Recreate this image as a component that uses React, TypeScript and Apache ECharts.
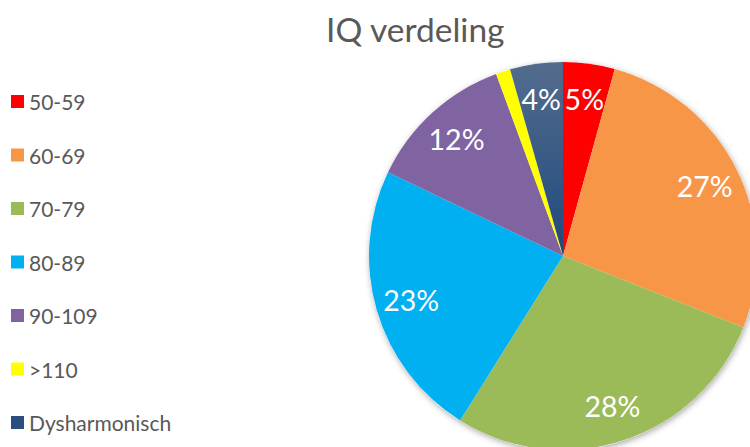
import React, { useEffect, useRef } from "react";
import * as echarts from "echarts";

const categories = ["50-59", "60-69", "70-79", "80-89", "90-109", ">110", "Dysharmonisch"];
const values = [4.3, 26.7, 27.9, 23.2, 12.3, 1.2, 4.4];
const percentLabels = ["5%", "27%", "28%", "23%", "12%", "1%", "4%"];
const colors: any[] = [
  "#FF0000",
  "#F79646",
  "#9BBB59",
  "#00B0F0",
  "#8064A2",
  "#FFFF00",
  {
    type: "linear",
    x: 0,
    y: 0,
    x2: 0,
    y2: 1,
    colorStops: [
      { offset: 0, color: "#536c8d" },
      { offset: 1, color: "#1F497D" },
    ],
  },
];
const legendColors = ["#FF0000", "#F79646", "#9BBB59", "#00B0F0", "#8064A2", "#FFFF00", "#2A4F7E"];

const FONT = "Lato, 'Open Sans', sans-serif";

export default function App() {
  const ref = useRef<HTMLDivElement>(null);
  useEffect(() => {
    if (!ref.current) return;
    const chart = echarts.init(ref.current, undefined, { renderer: "svg" });
    const center = [563, 256];
    const R = 194;
    chart.setOption({
      animation: false,
      backgroundColor: "#ffffff",
      title: {
        text: "IQ verdeling",
        left: 321,
        top: 7,
        textStyle: { fontFamily: FONT, fontSize: 33.5, fontWeight: "normal", color: "#595959" },
      },
      legend: {
        orient: "vertical",
        left: 11,
        top: 91,
        padding: 0,
        icon: "rect",
        itemWidth: 13,
        itemHeight: 13,
        itemGap: 32.5,
        data: categories.map((c, i) => ({ name: c, itemStyle: { color: legendColors[i] } })),
        textStyle: { fontFamily: FONT, fontSize: 21, color: "#595959", lineHeight: 21 },
        selectedMode: false,
      },
      series: [
        {
          type: "pie",
          center,
          radius: R,
          silent: true,
          z: 1,
          label: { show: false },
          labelLine: { show: false },
          itemStyle: {
            color: "#ffffff",
            shadowBlur: 6,
            shadowColor: "rgba(0,0,0,0.35)",
            shadowOffsetX: 1,
            shadowOffsetY: 2,
          },
          data: [{ value: 1, name: "__shadow" }],
          legendHoverLink: false,
        },
        {
          type: "pie",
          center,
          radius: R,
          startAngle: 90,
          clockwise: true,
          z: 2,
          label: { show: false },
          labelLine: { show: false },
          data: categories.map((c, i) => ({
            name: c,
            value: values[i],
            itemStyle: { color: colors[i] },
          })),
        },
        {
          type: "pie",
          center,
          radius: [R * 0.6, R],
          startAngle: 90,
          clockwise: true,
          silent: true,
          z: 3,
          itemStyle: { color: "rgba(0,0,0,0)" },
          label: {
            show: true,
            position: "inside",
            fontFamily: FONT,
            fontSize: 28.5,
            color: "#ffffff",
            formatter: (p: any) => percentLabels[p.dataIndex],
          },
          labelLine: { show: false },
          data: categories.map((c, i) => ({ name: "lbl" + i, value: values[i] })),
        },
      ],
    });
    return () => chart.dispose();
  }, []);
  return (
    <div
      ref={ref}
      style={{ position: "fixed", left: 0, top: 0, width: 750, height: 447 }}
    />
  );
}
